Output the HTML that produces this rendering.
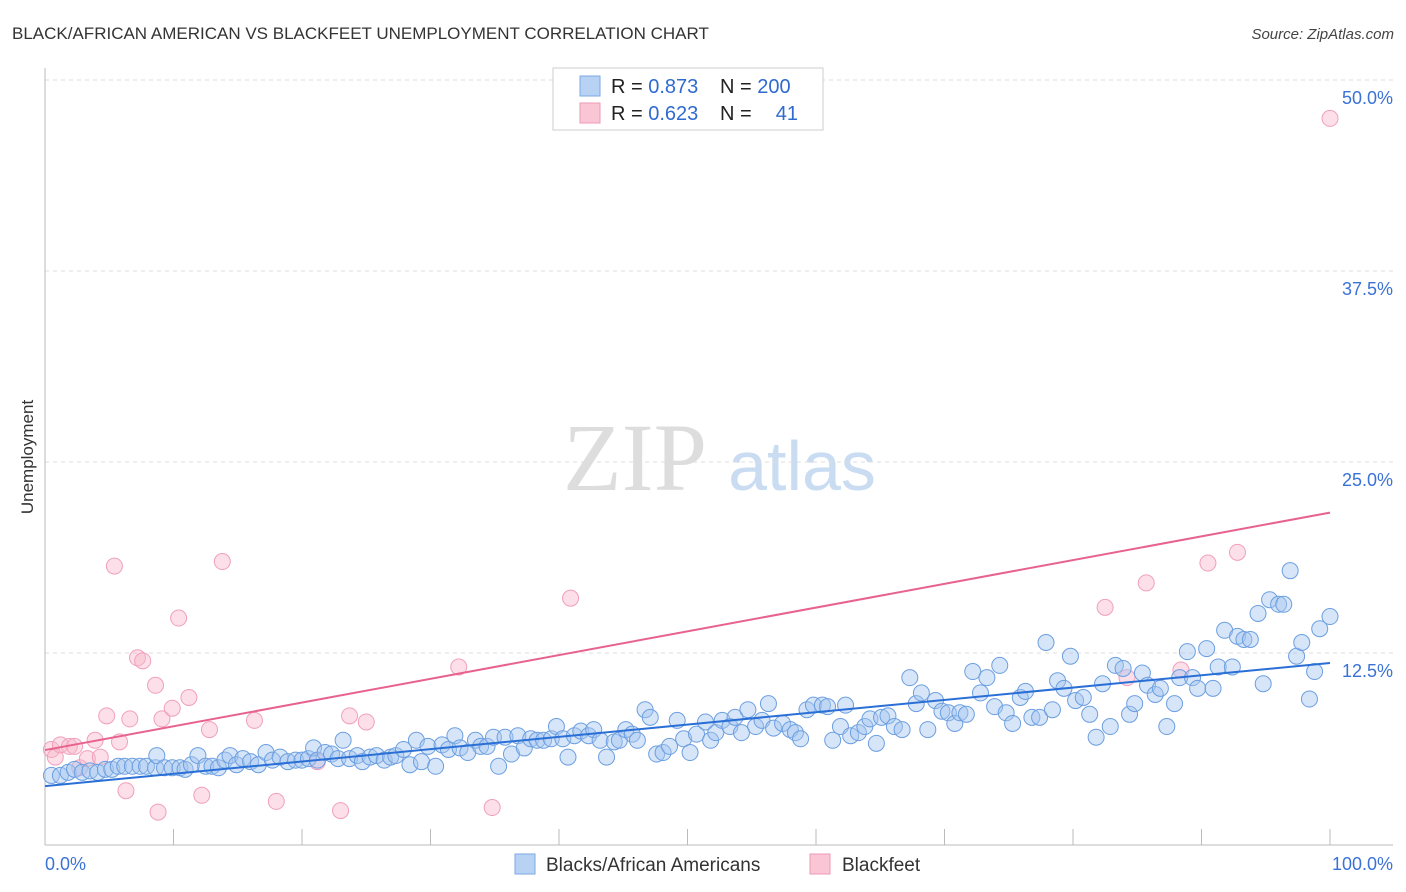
<!DOCTYPE html>
<html><head><meta charset="utf-8"><style>
body{margin:0;background:#fff;font-family:"Liberation Sans",sans-serif;}
svg{display:block}
</style></head><body>
<svg id="chart" width="1406" height="892" viewBox="0 0 1406 892" xmlns="http://www.w3.org/2000/svg">
<text x="12" y="39" font-size="17" fill="#333">BLACK/AFRICAN AMERICAN VS BLACKFEET UNEMPLOYMENT CORRELATION CHART</text>
<text x="1394" y="39" font-size="15" fill="#444" font-style="italic" text-anchor="end">Source: ZipAtlas.com</text>
<text transform="translate(33,457) rotate(-90)" font-size="17" fill="#333" text-anchor="middle">Unemployment</text>
<g>
<text x="635" y="490" font-size="96" fill="#ddd" font-family="Liberation Serif,serif" text-anchor="middle">ZIP</text>
<text x="802" y="490" font-size="70" fill="#c9dcf2" text-anchor="middle">atlas</text>
</g>
<g id="grid"></g>
<g id="axes"></g>
<g id="pinkPts"></g>
<g id="bluePts"></g>
<g id="lines"></g>
<g>
<rect x="553" y="68" width="270" height="62" fill="#fff" stroke="#ccc"/>
<rect x="580" y="76" width="20" height="20" fill="#b8d2f4" stroke="#7aaae6"/>
<rect x="580" y="103" width="20" height="20" fill="#fac6d6" stroke="#ee9ab4"/>
<text x="611" y="93" font-size="20" fill="#222">R = <tspan fill="#2f6ad0">0.873</tspan></text>
<text x="720" y="93" font-size="20" fill="#222">N = <tspan fill="#2f6ad0">200</tspan></text>
<text x="611" y="120" font-size="20" fill="#222">R = <tspan fill="#2f6ad0">0.623</tspan></text>
<text x="720" y="120" font-size="20" fill="#222">N = </text>
<text x="798" y="120" font-size="20" fill="#2f6ad0" text-anchor="end">41</text>
</g>
<g>
<rect x="515" y="854" width="20" height="20" fill="#b8d2f4" stroke="#7aaae6"/>
<text x="546" y="871" font-size="19" fill="#333">Blacks/African Americans</text>
<rect x="810" y="854" width="20" height="20" fill="#fac6d6" stroke="#ee9ab4"/>
<text x="842" y="871" font-size="19" fill="#333">Blackfeet</text>
</g>
</svg>
<script>
const yTicks=[12.5,25,37.5,50];
const yTickLabels=["12.5%","25.0%","37.5%","50.0%"];
const xTickVals=[0,10,20,30,40,50,60,70,80,90,100];
const pinkX=[0.5,0.8,1.2,1.9,2.3,2.7,3.3,3.9,4.3,4.8,5.4,5.8,6.3,6.6,7.2,7.6,8.6,8.8,9.1,9.9,10.4,11.2,12.2,12.8,13.8,16.3,18.0,21.2,23.0,23.7,25.0,32.2,34.8,40.9,82.5,84.2,85.7,88.4,90.5,92.8,100];
const pinkY=[7.3,6.8,7.6,7.5,7.5,6.1,6.7,7.9,6.8,9.5,19.3,7.8,4.6,9.3,13.3,13.1,11.5,3.2,9.3,10.0,15.9,10.7,4.3,8.6,19.6,9.2,3.9,6.5,3.3,9.5,9.1,12.7,3.5,17.2,16.6,12.0,18.2,12.5,19.5,20.2,48.6];
const blueX=[0.5,1.2,1.8,2.3,2.9,3.5,4.1,4.7,5.2,5.7,6.2,6.8,7.4,7.9,8.6,8.7,9.3,9.9,10.5,10.9,11.4,11.9,12.5,13.0,13.5,14.0,14.4,14.9,15.4,16.0,16.6,17.2,17.7,18.3,18.9,19.5,20.0,20.5,20.9,21.2,21.8,22.3,22.8,23.2,23.7,24.3,24.7,25.3,25.8,26.4,26.9,27.3,27.9,28.4,28.9,29.3,29.8,30.4,30.9,31.4,31.9,32.3,32.9,33.5,33.9,34.4,34.9,35.3,35.8,36.3,36.8,37.3,37.8,38.3,38.8,39.4,39.8,40.3,40.7,41.2,41.7,42.3,42.7,43.2,43.7,44.3,44.7,45.2,45.7,46.1,46.7,47.1,47.6,48.1,48.6,49.2,49.7,50.2,50.7,51.4,51.8,52.2,52.7,53.3,53.7,54.2,54.7,55.3,55.8,56.3,56.7,57.4,58.0,58.4,58.8,59.3,59.8,60.5,60.9,61.3,61.9,62.3,62.7,63.3,63.8,64.2,64.7,65.1,65.6,66.1,66.7,67.3,67.8,68.2,68.7,69.3,69.8,70.3,70.8,71.2,71.7,72.2,72.8,73.3,73.9,74.3,74.8,75.3,75.9,76.3,76.8,77.4,77.9,78.4,78.8,79.3,79.8,80.2,80.8,81.3,81.8,82.3,82.9,83.3,83.9,84.4,84.8,85.4,85.8,86.4,86.8,87.3,87.9,88.3,88.9,89.3,89.7,90.4,90.9,91.3,91.8,92.4,92.8,93.3,93.8,94.4,94.8,95.3,96.0,96.4,96.9,97.4,97.8,98.4,98.8,99.2,100];
const blueY=[5.6,5.6,5.8,6.0,5.8,5.9,5.8,6.0,6.0,6.2,6.2,6.2,6.2,6.2,6.1,6.9,6.1,6.1,6.1,6.0,6.3,6.9,6.2,6.2,6.1,6.6,6.9,6.3,6.7,6.5,6.3,7.1,6.6,6.8,6.5,6.6,6.6,6.7,7.4,6.6,7.1,7.0,6.7,7.9,6.7,6.9,6.5,6.8,6.9,6.6,6.8,6.9,7.3,6.3,7.9,6.5,7.5,6.2,7.6,7.3,8.2,7.4,7.1,7.9,7.5,7.5,8.1,6.2,8.1,7.0,8.2,7.4,8.0,7.9,7.9,8.0,8.8,8.0,6.8,8.2,8.5,8.2,8.6,7.9,6.8,7.8,7.9,8.6,8.3,7.9,9.9,9.4,7.0,7.1,7.5,9.2,8.0,7.1,8.3,9.1,7.9,8.4,9.2,8.8,9.4,8.4,9.9,8.8,9.2,10.3,8.7,9.0,8.6,8.4,8.0,9.9,10.2,10.2,10.1,7.9,8.8,10.2,8.2,8.4,8.8,9.3,7.7,9.4,9.5,8.8,8.6,12.0,10.3,11.0,8.6,10.5,9.8,9.7,9.0,9.7,9.6,12.4,11.0,12.0,10.1,12.8,9.7,9.0,10.7,11.1,9.4,9.4,14.3,9.9,11.8,11.3,13.4,10.5,10.7,9.6,8.1,11.6,8.8,12.8,12.6,9.6,10.3,12.3,11.5,10.9,11.3,8.8,10.3,12.0,13.7,12.0,11.3,13.9,11.3,12.7,15.1,12.7,14.7,14.5,14.5,16.2,11.6,17.1,16.8,16.8,19.0,13.4,14.3,10.6,12.4,15.2,16.0];
const blueTrend=[4.9,12.96];
const pinkTrend=[7.26,22.8];
const NS="http://www.w3.org/2000/svg";
function xs(v){return 45+v*12.85;}
function ys(v){return 861-v*15.28;}
function mk(tag,attrs,parent){const e=document.createElementNS(NS,tag);for(const k in attrs)e.setAttribute(k,attrs[k]);parent.appendChild(e);return e;}
const grid=document.getElementById('grid');
yTicks.forEach((t,i)=>{
  const gl=mk('line',{x1:45,x2:1393,y1:ys(t)-17,y2:ys(t)-17,stroke:'#ddd','stroke-dasharray':'4,4'},grid);
  
  
  const tx=mk('text',{x:1393,y:ys(t)+7,'font-size':18,fill:'#3a72d6','text-anchor':'end'},grid);
  tx.textContent=yTickLabels[i];
  
  
});
const axes=document.getElementById('axes');
mk('line',{x1:45,x2:45,y1:68,y2:845,stroke:'#bbb'},axes);
mk('line',{x1:45,x2:1393,y1:845,y2:845,stroke:'#bbb'},axes);
xTickVals.forEach(v=>{
  const t=mk('line',{x1:xs(v),x2:xs(v),y1:829,y2:845,stroke:'#bbb'},axes);
  
  
});
const xl0=mk('text',{x:45,y:870,'font-size':18,fill:'#3a72d6'},axes);xl0.textContent='0.0%';


const xl1=mk('text',{x:1393,y:870,'font-size':18,fill:'#3a72d6','text-anchor':'end'},axes);xl1.textContent='100.0%';


const pg=document.getElementById('pinkPts');
pinkX.forEach((x,i)=>{
  const c=mk('circle',{cx:xs(x),cy:ys(pinkY[i]),r:8,fill:'rgba(248,184,204,0.45)',stroke:'#f0a0bb','stroke-width':1},pg);
  
  
});
const bg=document.getElementById('bluePts');
blueX.forEach((x,i)=>{
  const c=mk('circle',{cx:xs(x),cy:ys(blueY[i]),r:8,fill:'rgba(164,198,240,0.45)',stroke:'#6c9fe0','stroke-width':1},bg);
  
  
});
const lg=document.getElementById('lines');
const bl=mk('line',{x1:xs(0),y1:ys(blueTrend[0]),x2:xs(100),y2:ys(blueTrend[1]),stroke:'#2a6fd6','stroke-width':2},lg);


const pl=mk('line',{x1:xs(0),y1:ys(pinkTrend[0]),x2:xs(100),y2:ys(pinkTrend[1]),stroke:'#e8628e','stroke-width':2},lg);


</script>
</body></html>
